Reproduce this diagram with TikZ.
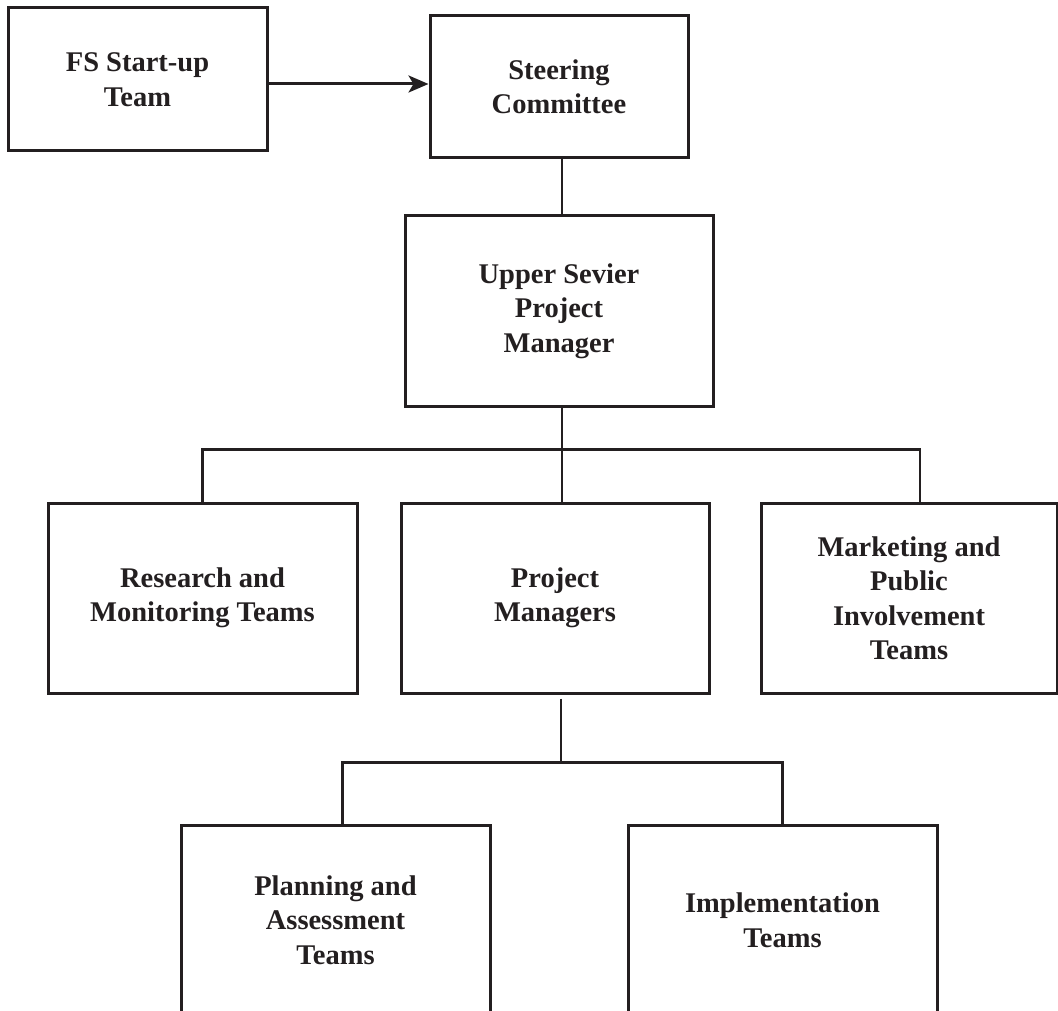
\documentclass[tikz,border=0pt]{standalone}
\usepackage{fontspec}
\setmainfont{Liberation Serif}
\usetikzlibrary{arrows,arrows.meta,positioning}
\definecolor{ink}{HTML}{231F20}
\tikzset{>={Stealth[length=20pt,width=17pt,inset=5pt]},auto,
  box/.style={rectangle,draw=ink,line width=3pt,text=ink,align=center,inner sep=0pt,font=\bfseries\fontsize{28.5}{34.5}\selectfont},
  wide box/.style={box,minimum width=309pt,minimum height=190pt},
  small box/.style={box,minimum width=258pt,minimum height=142pt},
  link/.style={draw=ink,line width=2.2pt},
  arrow link/.style={draw=ink,line width=3pt,->}}

\begin{document}
\begin{tikzpicture}[x=1pt,y=1pt]
    \useasboundingbox (0,0) rectangle (1058,-1011);
    \clip (0,0) rectangle (1058,-1011);
    \node[small box, on grid] (steer) at (559,-87) {Steering\\Committee};
    \node[small box, on grid, minimum width=259pt, minimum height=143pt] (fs) [above left = 7.5pt and 421.5pt of steer] {FS Start-up\\Team};
    \node[wide box, on grid, minimum width=308pt] (usp) [below = 224pt of steer] {Upper Sevier\\Project\\Manager};
    \node[wide box, on grid, minimum width=308pt] (pm) [below left = 287pt and 4pt of usp] {Project\\Managers};
    \node[wide box, on grid] (rmt) [left = 352.5pt of pm] {Research and\\Monitoring Teams};
    \node[wide box, on grid, minimum width=296pt] (mpi) [right = 354pt of pm] {Marketing and\\Public\\Involvement\\Teams};
    \node[wide box, on grid] (pat) [below left = 322pt and 219.5pt of pm] {Planning and\\Assessment\\Teams};
    \node[wide box, on grid] (imp) [below right = 322pt and 227.5pt of pm] {Implementation\\Teams};
    % connectors
    \draw[arrow link] ([yshift=-4.5pt]fs.east) -- ([yshift=-4.5pt]fs.east -| steer.west);
    \draw[link] ([xshift=3pt]steer.south) -- ([xshift=3pt]usp.north);
    \path ([xshift=3pt]usp.south) ++(0,-42) coordinate (upper bar);
    \draw[link] ([xshift=3pt]usp.south) -- (upper bar);
    \draw[link] (rmt.north) |- (upper bar) -| ([xshift=11pt]mpi.north);
    \draw[link] (upper bar) -- (upper bar |- pm.north);
    \path ([xshift=6pt]pm.south) ++(0,-68) coordinate (lower bar);
    \draw[link] ([xshift=6pt,yshift=-4pt]pm.south) -- (lower bar);
    \draw[link] ([xshift=7pt]pat.north) |- (lower bar) -| (imp.north);
\end{tikzpicture}
\end{document}
